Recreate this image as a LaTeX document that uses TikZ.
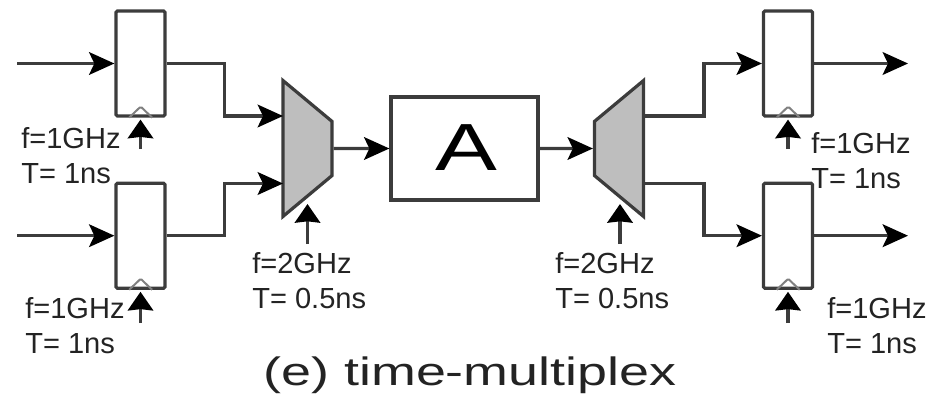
\documentclass[tikz,border=0pt]{standalone}
\usepackage{fontspec}
\setmainfont{Liberation Sans}
\usetikzlibrary{
    shapes.geometric,
    arrows.meta
}
\definecolor{wiregray}{RGB}{60, 60, 60}
\definecolor{muxgray}{RGB}{190, 190, 190}
\definecolor{labelgray}{RGB}{35, 35, 35}
\tikzset{
    regbox/.style={draw=wiregray, line width=2.4pt, rounded corners=1pt, inner sep=0pt, minimum width=36.75pt, minimum height=78.75pt},
    muxshape/.style={draw=wiregray, fill=muxgray, line width=2.4pt, trapezium, trapezium stretches=true, trapezium left angle=54.5, trapezium right angle=54.5, inner sep=0pt, minimum width=102pt, minimum height=36.75pt},
    wire/.style={draw=wiregray, line width=2.4pt, -{Stealth[length=19pt, width=17pt, inset=4pt, color=black]}},
    clockwire/.style={draw=wiregray, line width=2.4pt, shorten >=1.5pt, -{Stealth[length=14pt, width=19pt, inset=1pt, color=black]}},
    clockmark/.style={draw=gray, line width=1.5pt, rounded corners=1pt},
    freqlabel/.style={anchor=north west, align=left, inner sep=0pt, text=labelgray, font=\fontsize{21.8}{26.5}\selectfont}
}
\begin{document}
\begin{tikzpicture}[x=0.75pt, y=-0.75pt]
    \useasboundingbox (0,0) rectangle (935,396);

    % Registers
    \node[regbox] (regtl) at (140.5,63.5) {};
    \node[regbox] (regbl) at (140.5,235.7) {};
    \node[regbox] (regtr) at (788,63.5) {};
    \node[regbox] (regbr) at (788,235.7) {};

    % Clock marks
    \draw[clockmark] ([xshift=-8.5pt]regtl.south) -- ++(11.5,-11) -- ++(11.5,11);
    \draw[clockmark] ([xshift=-8.5pt]regbl.south) -- ++(11.5,-11) -- ++(11.5,11);
    \draw[clockmark] ([xshift=-8.5pt]regtr.south) -- ++(11.5,-11) -- ++(11.5,11);
    \draw[clockmark] ([xshift=-8.5pt]regbr.south) -- ++(11.5,-11) -- ++(11.5,11);

    % Multiplexers and block
    \node[muxshape, rotate=-90] (muxl) at (307.5,148.5) {\phantom{x}};
    \node[muxshape, rotate=90] (muxr) at (619,148.5) {\phantom{x}};
    \node[draw=wiregray, line width=2.4pt, inner sep=0pt, minimum width=110.25pt, minimum height=77.25pt] (blocka) at (464.5,148.5) {};
    \node[xscale=1.39, anchor=base, font=\fontsize{50}{50}\selectfont, text=black] (blockname) at (466,170) {A};

    % Free ends of the connectors
    \coordinate (intl) at (17,63.5);
    \coordinate (inbl) at (17,235.7);
    \coordinate (outtr) at (908,63.5);
    \coordinate (outbr) at (908,235.7);
    \coordinate (muxlup) at (283,116);
    \coordinate (muxldown) at (283,183.5);
    \coordinate (muxrup) at (643,116);
    \coordinate (muxrdown) at (643,183.5);
    \coordinate (clktl) at (140.5,149);
    \coordinate (clkbl) at (140.5,323);
    \coordinate (clktr) at (788,149);
    \coordinate (clkbr) at (788,323);
    \coordinate (clkmuxl) at (307.5,244);
    \coordinate (clkmuxr) at (620,244);
    \coordinate (endmuxl) at (307.5,202);
    \coordinate (endmuxr) at (620,202);

    % Arrows
    \draw[wire] (intl) -- (regtl.west);
    \draw[wire] (inbl) -- (regbl.west);
    \draw[wire] (regtl.east) -- ++(58,0) |- (muxlup);
    \draw[wire] (regbl.east) -- ++(58,0) |- (muxldown);
    \draw[wire] (muxl.north) -- (blocka.west);
    \draw[wire] (blocka.east) -- (muxr.north);
    \draw[wire] (muxrup) -- ++(61,0) |- (regtr.west);
    \draw[wire] (muxrdown) -- ++(61,0) |- (regbr.west);
    \draw[wire] (regtr.east) -- (outtr);
    \draw[wire] (regbr.east) -- (outbr);
    \draw[clockwire] (clktl) -- (regtl.south);
    \draw[clockwire] (clkbl) -- (regbl.south);
    \draw[clockwire] (clktr) -- (regtr.south);
    \draw[clockwire] (clkbr) -- (regbr.south);
    \draw[clockwire] (clkmuxl) -- (endmuxl);
    \draw[clockwire] (clkmuxr) -- (endmuxr);

    % Labels
    \node[freqlabel] (freqtl) at (21,127) {f=1GHz\\T= 1ns};
    \node[freqlabel] (freqbl) at (25,297) {f=1GHz\\T= 1ns};
    \node[freqlabel] (freqmuxl) at (252,252) {f=2GHz\\T= 0.5ns};
    \node[freqlabel] (freqmuxr) at (555,252) {f=2GHz\\T= 0.5ns};
    \node[freqlabel] (freqtr) at (811,132) {f=1GHz\\T= 1ns};
    \node[freqlabel] (freqbr) at (827,297) {f=1GHz\\T= 1ns};
    \node[xscale=1.36, anchor=base, font=\fontsize{29.7}{29.7}\selectfont, text=labelgray] (caption) at (470,385) {(e) time-multiplex};
\end{tikzpicture}
\end{document}
